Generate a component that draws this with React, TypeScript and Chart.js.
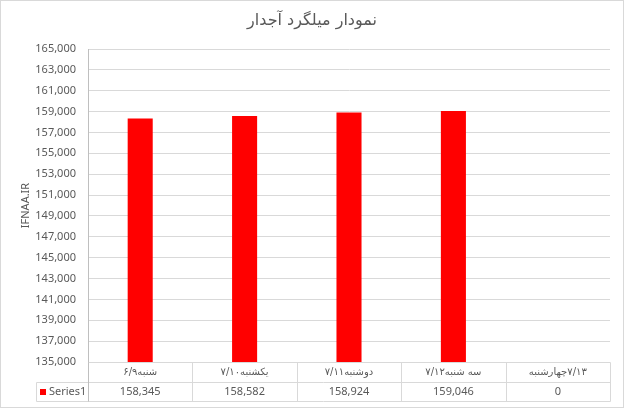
import { useEffect, useRef } from "react";
import { Chart, registerables } from "chart.js";

Chart.register(...registerables);

const chartTitle = "نمودار میلگرد آجدار";
const axisTitle = "IFNAA.IR";
const categoryDays = ["شنبه", "یکشنبه", "دوشنبه", "سه شنبه", "چهارشنبه"];
const categoryDates = ["۶/۹", "۷/۱۰", "۷/۱۱", "۷/۱۲", "۷/۱۳"];
const categories = categoryDays.map((d, i) => d + categoryDates[i]);
const seriesName = "Series1";
const seriesValues = [158345, 158582, 158924, 159046, 0];
const yMin = 135000;
const yMax = 165000;
const yStep = 2000;

const W = 624;
const H = 408;
const TEXT = "#595959";
const GRID = "#d9d9d9";
const LATIN = "'Noto Sans', 'DejaVu Sans', sans-serif";
const ARABIC = "'DejaVu Sans', sans-serif";

const fmt = (v: number) => Number(v).toLocaleString("en-US");

const extrasPlugin = {
  id: "extras",
  afterDraw(chart: any) {
    const { ctx, chartArea, scales } = chart;
    const xs = scales.x;
    const n = categories.length;
    const centers = categories.map((_, i) => xs.getPixelForValue(i));
    const half = (centers[1] - centers[0]) / 2;
    const edges = [centers[0] - half, ...centers.map((c: number) => c + half)];
    const px = (v: number) => Math.round(v) + 0.5;
    const top = chartArea.bottom;
    const mid = top + 20;
    const bot = top + 39;
    const legendLeft = 36;

    ctx.save();
    const line = (x1: number, y1: number, x2: number, y2: number, c: string) => {
      ctx.strokeStyle = c;
      ctx.lineWidth = 1;
      ctx.beginPath();
      ctx.moveTo(x1, y1);
      ctx.lineTo(x2, y2);
      ctx.stroke();
    };
    line(px(edges[0]), px(top), px(edges[n]), px(top), GRID);
    line(px(legendLeft), px(mid), px(edges[n]), px(mid), GRID);
    line(px(legendLeft), px(bot), px(edges[n]), px(bot), GRID);
    line(px(legendLeft), px(mid), px(legendLeft), px(bot), GRID);
    for (let i = 1; i <= n; i++) line(px(edges[i]), px(top), px(edges[i]), px(bot), GRID);
    line(px(edges[0]), px(top), px(edges[0]), px(bot), "#bfbfbf");

    ctx.fillStyle = TEXT;
    ctx.textBaseline = "middle";
    ctx.font = `10px ${ARABIC}`;
    ctx.textAlign = "left";
    const ly = (top + mid) / 2 + 0.5;
    categoryDays.forEach((day, i) => {
      const date = categoryDates[i];
      const wd = ctx.measureText(day).width;
      const wt = ctx.measureText(date).width;
      const start = centers[i] - (wd + wt) / 2;
      if (i < n - 1) {
        ctx.fillText(date, start, ly);
        ctx.fillText(day, start + wt, ly);
      } else {
        ctx.fillText(day, start, ly);
        ctx.fillText(date, start + wd, ly);
      }
    });
    ctx.font = `11px ${LATIN}`;
    ctx.textAlign = "center";
    seriesValues.forEach((v, i) => ctx.fillText(fmt(v), centers[i], (mid + bot) / 2 + 0.5));

    ctx.fillStyle = "#ff0000";
    ctx.fillRect(40, Math.round((mid + bot) / 2) - 3, 6, 6);
    ctx.fillStyle = TEXT;
    ctx.textAlign = "left";
    ctx.fillText(seriesName, 49, (mid + bot) / 2 + 0.5);

    ctx.font = `16px ${ARABIC}`;
    ctx.textAlign = "center";
    ctx.fillStyle = TEXT;
    ctx.fillText(chartTitle, W / 2, 21);

    ctx.strokeStyle = GRID;
    ctx.strokeRect(0.5, 0.5, W - 1, H - 1);
    ctx.restore();
  },
};

export default function App() {
  const ref = useRef<HTMLCanvasElement | null>(null);
  useEffect(() => {
    document.body.style.margin = "0";
    if (!ref.current) return;
    const chart = new Chart(ref.current, {
      type: "bar",
      data: {
        labels: categories,
        datasets: [
          {
            label: seriesName,
            data: seriesValues,
            backgroundColor: "#ff0000",
            categoryPercentage: 1,
            barPercentage: 0.24,
          },
        ],
      },
      options: {
        responsive: false,
        animation: false,
        devicePixelRatio: 1,
        layout: { padding: { top: 49, left: 0, right: 14, bottom: 0 } },
        plugins: { legend: { display: false }, tooltip: { enabled: false }, title: { display: false } },
        scales: {
          x: {
            ticks: { display: false },
            grid: { display: false },
            border: { display: false },
            afterFit(scale: any) {
              scale.height = 46;
            },
          },
          y: {
            min: yMin,
            max: yMax,
            ticks: {
              stepSize: yStep,
              color: TEXT,
              font: { family: LATIN, size: 11 },
              padding: 12,
              callback: (v: any) => fmt(v),
            },
            grid: { color: GRID, drawTicks: false },
            border: { display: true, color: "#bfbfbf" },
            title: {
              display: true,
              text: axisTitle,
              color: TEXT,
              font: { family: LATIN, size: 11 },
              padding: { top: 19, bottom: 0 },
            },
            afterFit(scale: any) {
              scale.width = 88;
            },
          },
        },
      },
      plugins: [extrasPlugin],
    });
    return () => chart.destroy();
  }, []);
  return (
    <div style={{ width: W, height: H }}>
      <canvas ref={ref} width={W} height={H} style={{ display: "block" }} />
    </div>
  );
}
